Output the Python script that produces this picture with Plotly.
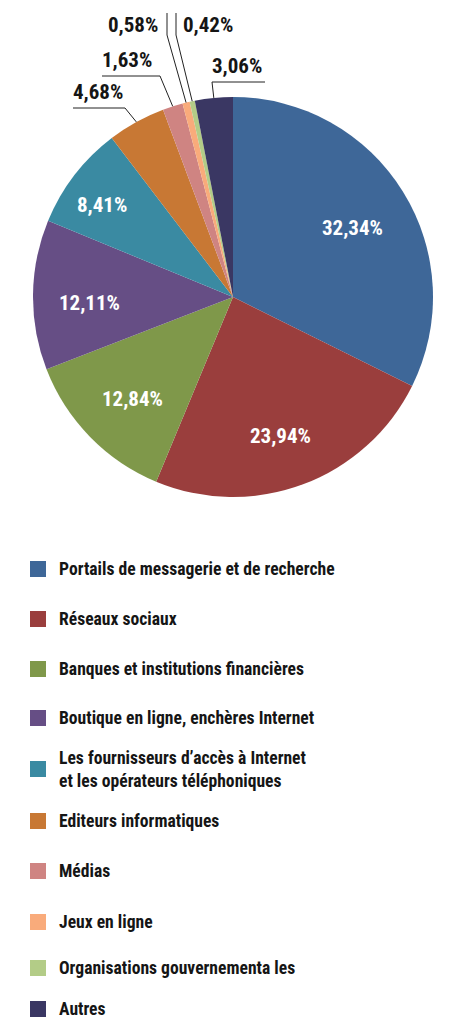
import math

import plotly.graph_objects as go

# ---------------- data ----------------
categories = [
    "Portails de messagerie et de recherche",
    "Réseaux sociaux",
    "Banques et institutions financières",
    "Boutique en ligne, enchères Internet",
    "Les fournisseurs d’accès à Internet<br>et les opérateurs téléphoniques",
    "Editeurs informatiques",
    "Médias",
    "Jeux en ligne",
    "Organisations gouvernementa les",
    "Autres",
]
shares = [32.34, 23.94, 12.84, 12.11, 8.41, 4.68, 1.63, 0.58, 0.42, 3.06]
colors = [
    "#3E6798", "#9A3E3D", "#7F984A", "#664E85", "#3A8AA2",
    "#C87834", "#CF8482", "#F9AB7B", "#B3CC87", "#3A3763",
]

# ---------------- layout constants (pixels) ----------------
W, H = 451, 1026
CX, CY, R = 233, 297, 200
FONT = "Roboto Condensed, Liberation Sans Narrow, DejaVu Sans Condensed, sans-serif"
INK = "#151515"

# white labels inside the big slices: (radius factor, angle shift in degrees)
inside_spot = {0: (0.69, 1.7), 1: (0.733, 1.8), 2: (0.718, -1.1), 3: (0.716, -3.1), 4: (0.80, -2.5)}
# outside labels of the small slices
outside_pos = {
    5: dict(x0=73, x1=125, y=108, kind="under"),
    6: dict(x0=102, x1=160, y=76, kind="under"),
    7: dict(x0=108, xl=167, y=13, kind="vert"),
    8: dict(x0=183, xl=176, y=13, kind="vert"),
    9: dict(x0=212, x1=265, y=82, kind="under"),
}
legend_rows = [569, 619, 669, 718, 769, 821, 871, 922, 968, 1009]


def px(x):
    return x / W


def py(y):
    return 1 - y / H


def fmt(v):
    return f"{v:.2f}".replace(".", ",") + "%"


fig = go.Figure(go.Pie(
    labels=[c.replace("<br>", " ") for c in categories],
    values=shares,
    sort=False,
    direction="clockwise",
    rotation=0,
    marker=dict(colors=colors, line=dict(width=0)),
    textinfo="none",
    hoverinfo="label+percent",
    domain=dict(x=[px(CX - R), px(CX + R)], y=[py(CY + R), py(CY - R)]),
    showlegend=False,
))

shapes = []
annotations = []
line = dict(color="#222222", width=1)

total = sum(shares)
cum = 0.0
for i, v in enumerate(shares):
    mid = (cum + v / 2) / total * 2 * math.pi
    cum += v
    if i in inside_spot:
        fr, shift = inside_spot[i]
        a = mid + math.radians(shift)
        rr = R * fr
        annotations.append(dict(x=px(CX + rr * math.sin(a)), y=py(CY - rr * math.cos(a)),
                                xref="paper", yref="paper", text=f"<b>{fmt(v)}</b>",
                                showarrow=False, xanchor="center", yanchor="middle",
                                font=dict(family=FONT, size=21, color="white")))
        continue
    p = outside_pos[i]
    ex, ey = CX + R * math.sin(mid), CY - R * math.cos(mid)
    if p["kind"] == "under":
        shapes.append(dict(type="line", xref="paper", yref="paper",
                           x0=px(p["x0"]), y0=py(p["y"]), x1=px(p["x1"]), y1=py(p["y"]), line=line))
        sx = p["x1"] if i != 9 else p["x0"]
        shapes.append(dict(type="line", xref="paper", yref="paper",
                           x0=px(sx), y0=py(p["y"]), x1=px(ex), y1=py(ey), line=line))
        annotations.append(dict(x=px(p["x0"] - 2), y=py(p["y"] - 2), xref="paper", yref="paper",
                                text=f"<b>{fmt(v)}</b>", showarrow=False,
                                xanchor="left", yanchor="bottom",
                                font=dict(family=FONT, size=21, color=INK)))
    else:
        shapes.append(dict(type="line", xref="paper", yref="paper",
                           x0=px(p["xl"]), y0=py(p["y"]), x1=px(p["xl"]), y1=py(35), line=line))
        shapes.append(dict(type="line", xref="paper", yref="paper",
                           x0=px(p["xl"]), y0=py(35), x1=px(ex), y1=py(ey), line=line))
        annotations.append(dict(x=px(p["x0"] - 2), y=py(25), xref="paper", yref="paper",
                                text=f"<b>{fmt(v)}</b>", showarrow=False,
                                xanchor="left", yanchor="middle",
                                font=dict(family=FONT, size=21, color=INK)))

# legend built by hand
for name, col, yc in zip(categories, colors, legend_rows):
    shapes.append(dict(type="rect", xref="paper", yref="paper",
                       x0=px(30), x1=px(46), y0=py(yc + 8), y1=py(yc - 8),
                       fillcolor=col, line=dict(width=0)))
    annotations.append(dict(x=px(57), y=py(yc), xref="paper", yref="paper",
                            text=f"<b>{name}</b>", showarrow=False,
                            xanchor="left", yanchor="middle", align="left",
                            font=dict(family=FONT, size=17.6, color=INK)))

fig.update_layout(
    width=W,
    height=H,
    margin=dict(l=0, r=0, t=0, b=0),
    paper_bgcolor="white",
    plot_bgcolor="white",
    shapes=shapes,
    annotations=annotations,
)

# drop the default page margin so the figure sits at the window origin
fig.write_html("out.html", config={"displayModeBar": False},
               post_script="document.body.style.margin='0';")
